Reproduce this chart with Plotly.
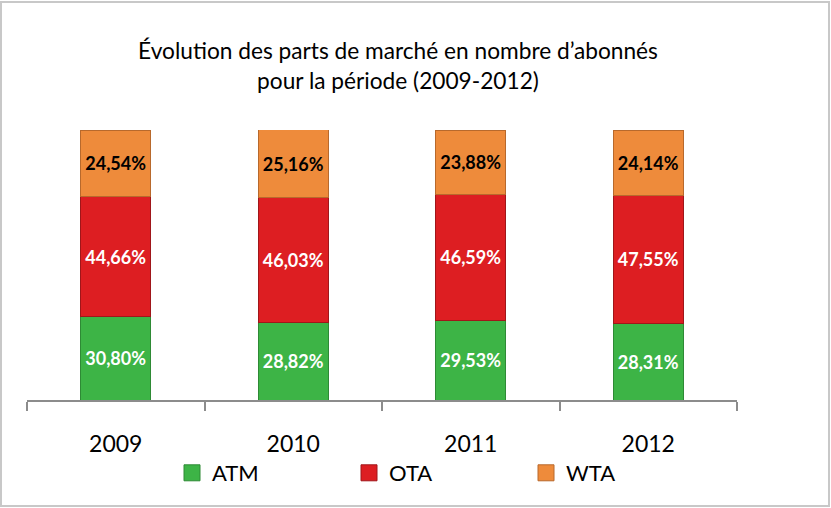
import plotly.graph_objects as go

years = ["2009", "2010", "2011", "2012"]
atm = [30.80, 28.82, 29.53, 28.31]
ota = [44.66, 46.03, 46.59, 47.55]
wta = [24.54, 25.16, 23.88, 24.14]
series_names = ["ATM", "OTA", "WTA"]
title_text = "Évolution des parts de marché en nombre d’abonnés<br>pour la période (2009-2012)"

colors = {"ATM": "#3DB446", "OTA": "#DD1E22", "WTA": "#EE8B3B"}
edges = {"ATM": "#2E8A35", "OTA": "#A0161A", "WTA": "#B8692C"}
label_colors = {"ATM": "white", "OTA": "white", "WTA": "black"}
FONT = "Lato"

def fmt(v):
    return f"{v:.2f}".replace(".", ",") + "%"

fig = go.Figure()
for name, vals in zip(series_names, [atm, ota, wta]):
    fig.add_trace(go.Bar(
        x=years, y=vals, name=name,
        marker=dict(color=colors[name], line=dict(color=edges[name], width=1)),
        text=[fmt(v) for v in vals],
        textposition="inside", insidetextanchor="middle", textangle=0,
        insidetextfont=dict(family=FONT, size=18, color=label_colors[name], weight="bold"),
        showlegend=False,
    ))
# legend entries
for name in series_names:
    fig.add_trace(go.Scatter(
        x=[None], y=[None], mode="markers", name=name,
        marker=dict(symbol="square", size=16, color=colors[name],
                    line=dict(color=edges[name], width=1)),
    ))

W, H = 831, 508
L, R, T, B = 27, 94, 130, 108
pw, ph = W - L - R, H - T - B

def px_x(p):
    return (p - L) / pw

def px_y(p):
    return (H - B - p) / ph

fig.update_layout(
    width=W, height=H,
    margin=dict(l=L, r=R, t=T, b=B),
    paper_bgcolor="white", plot_bgcolor="white",
    barmode="stack", bargap=0.605,
    font=dict(family=FONT, color="black"),
    title=dict(text=title_text, x=398 / W, xanchor="center", xref="container",
               y=1 - 59 / H, yanchor="top", yref="container",
               font=dict(family=FONT, size=22.7, color="black")),
    xaxis=dict(type="category", showline=True, linecolor="#8C8C8C", linewidth=2,
               ticks="outside", tickson="boundaries", ticklen=9, tickwidth=2,
               tickcolor="#8C8C8C", tickfont=dict(family=FONT, size=23, color="black"),
               ticklabelstandoff=22, showgrid=False, range=[-0.5, 3.5]),
    yaxis=dict(visible=False, range=[0, 100], showgrid=False),
    legend=dict(orientation="h", traceorder="normal",
                x=px_x(172), xanchor="left", y=px_y(473), yanchor="middle",
                font=dict(family=FONT, size=22, color="black"),
                entrywidth=132, entrywidthmode="pixels", bgcolor="rgba(0,0,0,0)"),
    shapes=[dict(type="rect", xref="paper", yref="paper",
                 x0=px_x(1), x1=px_x(829), y0=px_y(506), y1=px_y(2),
                 line=dict(color="#C8C8C8", width=2), layer="below")],
)

fig.write_html("out.html", config={"displayModeBar": False},
               post_script="document.body.style.margin='0';")
